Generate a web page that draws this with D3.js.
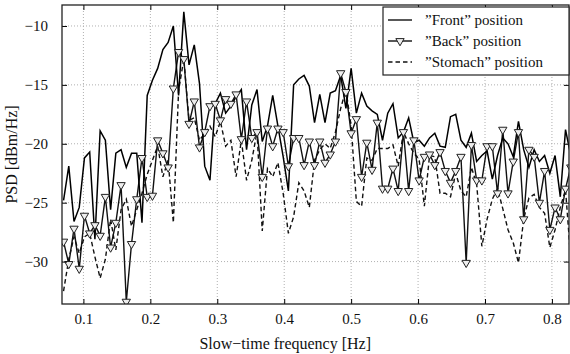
<!DOCTYPE html>
<meta charset="utf-8">
<style>
body { margin: 0; background: #fff; }
svg text { font-family: "Liberation Serif", "DejaVu Serif", serif; fill: #111; }
.grid line { stroke: #b0b0b0; stroke-dasharray: 1,2; }
</style>
<svg width="570" height="354"></svg>
<script src="https://cdn.jsdelivr.net/npm/d3@7"></script>
<script>

// frequency bins are k/128 Hz, k = 9..106
var kStart = 9;

var front = [-24.8, -21.9, -26.6, -25.4, -21.2, -20.7, -28.1, -18.9, -19.7, -25.6,
  -20.8, -20.5, -22.0, -20.8, -20.8, -26.7, -15.9, -14.6, -13.6, -12.0,
  -11.4, -10.0, -15.9, -8.8, -13.3, -11.6, -14.9, -21.9, -23.1, -16.6,
  -15.7, -17.4, -16.8, -16.0, -15.4, -20.5, -16.7, -15.4, -19.8, -18.5,
  -15.9, -18.5, -21.1, -24.0, -15.0, -14.5, -14.2, -15.1, -18.2, -15.8,
  -18.2, -15.7, -15.5, -14.2, -17.0, -13.6, -17.4, -15.7, -16.8, -17.2,
  -17.5, -19.7, -17.4, -16.6, -19.5, -19.0, -17.8, -19.9, -19.7, -20.2,
  -19.5, -19.1, -20.2, -20.3, -17.7, -17.5, -19.7, -20.3, -19.1, -21.5,
  -21.0, -20.6, -23.0, -21.0, -19.5, -20.0, -21.1, -18.1, -20.5, -22.0,
  -20.5, -21.5, -21.0, -22.5, -21.0, -24.5, -18.8, -21.0];

var back = [-28.3, -30.2, -27.2, -30.6, -26.1, -27.6, -26.9, -27.8, -24.5, -28.8,
  -26.7, -23.5, -33.4, -28.5, -24.7, -21.2, -24.5, -24.4, -19.7, -20.8,
  -22.0, -15.3, -12.2, -12.8, -18.3, -16.4, -20.3, -19.0, -16.8, -16.6,
  -18.0, -16.2, -16.6, -15.8, -19.6, -16.4, -19.5, -19.0, -22.8, -18.7,
  -20.2, -18.7, -19.0, -21.9, -19.5, -19.5, -21.8, -19.8, -21.8, -19.8,
  -21.6, -20.9, -19.8, -14.0, -15.6, -19.1, -17.9, -22.8, -19.9, -22.2,
  -18.2, -23.8, -23.8, -22.1, -24.0, -19.0, -24.0, -19.7, -23.1, -21.1,
  -20.9, -21.8, -20.7, -22.3, -23.3, -22.3, -21.1, -30.1, -20.1, -23.1,
  -23.1, -20.2, -20.2, -24.2, -18.8, -24.2, -21.5, -19.0, -26.4, -20.5,
  -21.1, -25.0, -22.3, -27.3, -25.4, -26.4, -23.8, -22.0];

var stomach = [-32.5, -29.8, -27.9, -29.3, -27.9, -27.6, -29.6, -31.4, -29.8, -26.4,
  -29.0, -25.6, -24.7, -27.0, -25.6, -24.2, -22.6, -21.4, -20.2, -22.8,
  -21.4, -26.7, -15.5, -12.8, -18.0, -17.8, -19.7, -19.1, -18.5, -19.4,
  -18.1, -20.2, -19.7, -22.8, -19.7, -23.1, -21.4, -19.0, -27.4, -22.1,
  -22.8, -21.6, -24.2, -27.6, -26.2, -23.3, -24.0, -25.4, -21.4, -20.5,
  -20.0, -20.4, -19.0, -17.0, -15.4, -18.5, -24.9, -25.3, -21.2, -21.4,
  -20.4, -20.4, -20.4, -20.1, -21.9, -19.0, -20.0, -20.8, -21.3, -25.3,
  -21.0, -21.1, -24.2, -24.2, -24.5, -22.5, -24.0, -24.5, -22.0, -23.4,
  -28.7, -26.4, -24.7, -23.8, -25.5, -27.3, -28.4, -30.1, -26.4, -24.6,
  -24.3, -25.4, -25.9, -28.8, -27.3, -25.4, -23.9, -29.8];

var xTicks = [0.1, 0.2, 0.3, 0.4, 0.5, 0.6, 0.7, 0.8];
var yTicks = [-30, -25, -20, -15, -10];
var labels = ["\u201dFront\u201d position", "\u201dBack\u201d position", "\u201dStomach\u201d position"];

var svg = d3.select("svg"),
    margin = {top: 5, right: 1, bottom: 50, left: 62},
    width = +svg.attr("width") - margin.left - margin.right,
    height = +svg.attr("height") - margin.top - margin.bottom,
    g = svg.append("g").attr("transform", "translate(" + margin.left + "," + margin.top + ")");

var x = d3.scaleLinear().domain([0.068, 0.8255]).range([0, width]);
var y = d3.scaleLinear().domain([-33.6, -8.22]).range([height, 0]);

var freq = function(i) { return (kStart + i) / 128; };

svg.append("defs").append("clipPath").attr("id", "clip")
  .append("rect").attr("width", width).attr("height", height);

// grid
var grid = g.append("g").attr("class", "grid");
grid.selectAll(".gx").data(xTicks).enter().append("line")
    .attr("x1", function(d) { return x(d); }).attr("x2", function(d) { return x(d); })
    .attr("y1", 0).attr("y2", height);
grid.selectAll(".gy").data(yTicks).enter().append("line")
    .attr("y1", function(d) { return y(d); }).attr("y2", function(d) { return y(d); })
    .attr("x1", 0).attr("x2", width);

var line = d3.line()
    .x(function(d, i) { return x(freq(i)); })
    .y(function(d) { return y(d); });

var plot = g.append("g").attr("clip-path", "url(#clip)");

plot.append("path").datum(stomach)
    .attr("fill", "none").attr("stroke", "#111").attr("stroke-width", 1.4)
    .attr("stroke-dasharray", "4.5,3").attr("d", line);

plot.append("path").datum(back)
    .attr("fill", "none").attr("stroke", "#111").attr("stroke-width", 1.4).attr("d", line);

plot.append("path").datum(front)
    .attr("fill", "none").attr("stroke", "#000").attr("stroke-width", 1.5).attr("d", line);

var tri = d3.symbol().type(d3.symbolTriangle).size(30);
plot.selectAll(".mk").data(back).enter().append("path")
    .attr("class", "mk")
    .attr("d", tri)
    .attr("transform", function(d, i) { return "translate(" + x(freq(i)) + "," + y(d) + ") rotate(180)"; })
    .attr("fill", "#eee").attr("stroke", "#222").attr("stroke-width", 1);

// axes, ticks inward on all four sides
g.append("g").attr("transform", "translate(0," + height + ")")
    .call(d3.axisBottom(x).tickValues(xTicks).tickSize(-5).tickPadding(9).tickFormat(d3.format(".1f")))
    .call(function(a) { a.select(".domain").remove(); a.selectAll("text").attr("font-size", 15); });
g.append("g")
    .call(d3.axisTop(x).tickValues(xTicks).tickSize(-5).tickFormat(""))
    .call(function(a) { a.select(".domain").remove(); });
g.append("g")
    .call(d3.axisLeft(y).tickValues(yTicks).tickSize(-5).tickPadding(14).tickFormat(d3.format("d")))
    .call(function(a) { a.select(".domain").remove(); a.selectAll("text").attr("font-size", 15); });
g.append("g").attr("transform", "translate(" + width + ",0)")
    .call(d3.axisRight(y).tickValues(yTicks).tickSize(-5).tickFormat(""))
    .call(function(a) { a.select(".domain").remove(); });

g.append("rect").attr("width", width).attr("height", height)
    .attr("fill", "none").attr("stroke", "#222").attr("stroke-width", 1.3);

// axis titles
svg.append("text")
    .attr("x", margin.left + x(0.4) + 1).attr("y", 349)
    .attr("text-anchor", "middle").attr("font-size", 16)
    .text("Slow\u2212time frequency [Hz]");
svg.append("text")
    .attr("transform", "translate(17," + (margin.top + height / 2) + ") rotate(-90)")
    .attr("text-anchor", "middle").attr("font-size", 16)
    .text("PSD [dBm/Hz]");

// legend
var lg = g.append("g").attr("transform", "translate(" + (width - 186) + ",2)");
lg.append("rect").attr("width", 186).attr("height", 68)
    .attr("fill", "#fff").attr("stroke", "#222").attr("stroke-width", 1.2);
var styles = [null, null, "4.5,3"];
labels.forEach(function(t, i) {
  var yy = 13 + i * 21;
  lg.append("line").attr("x1", 5).attr("x2", 29).attr("y1", yy).attr("y2", yy)
    .attr("stroke", "#111").attr("stroke-width", 1.4).attr("stroke-dasharray", styles[i]);
  if (i === 1) {
    lg.append("path").attr("d", tri).attr("transform", "translate(17," + yy + ") rotate(180)")
      .attr("fill", "#eee").attr("stroke", "#222").attr("stroke-width", 1);
  }
  lg.append("text").attr("x", 42).attr("y", yy + 5).attr("font-size", 15).text(t);
});

</script>
